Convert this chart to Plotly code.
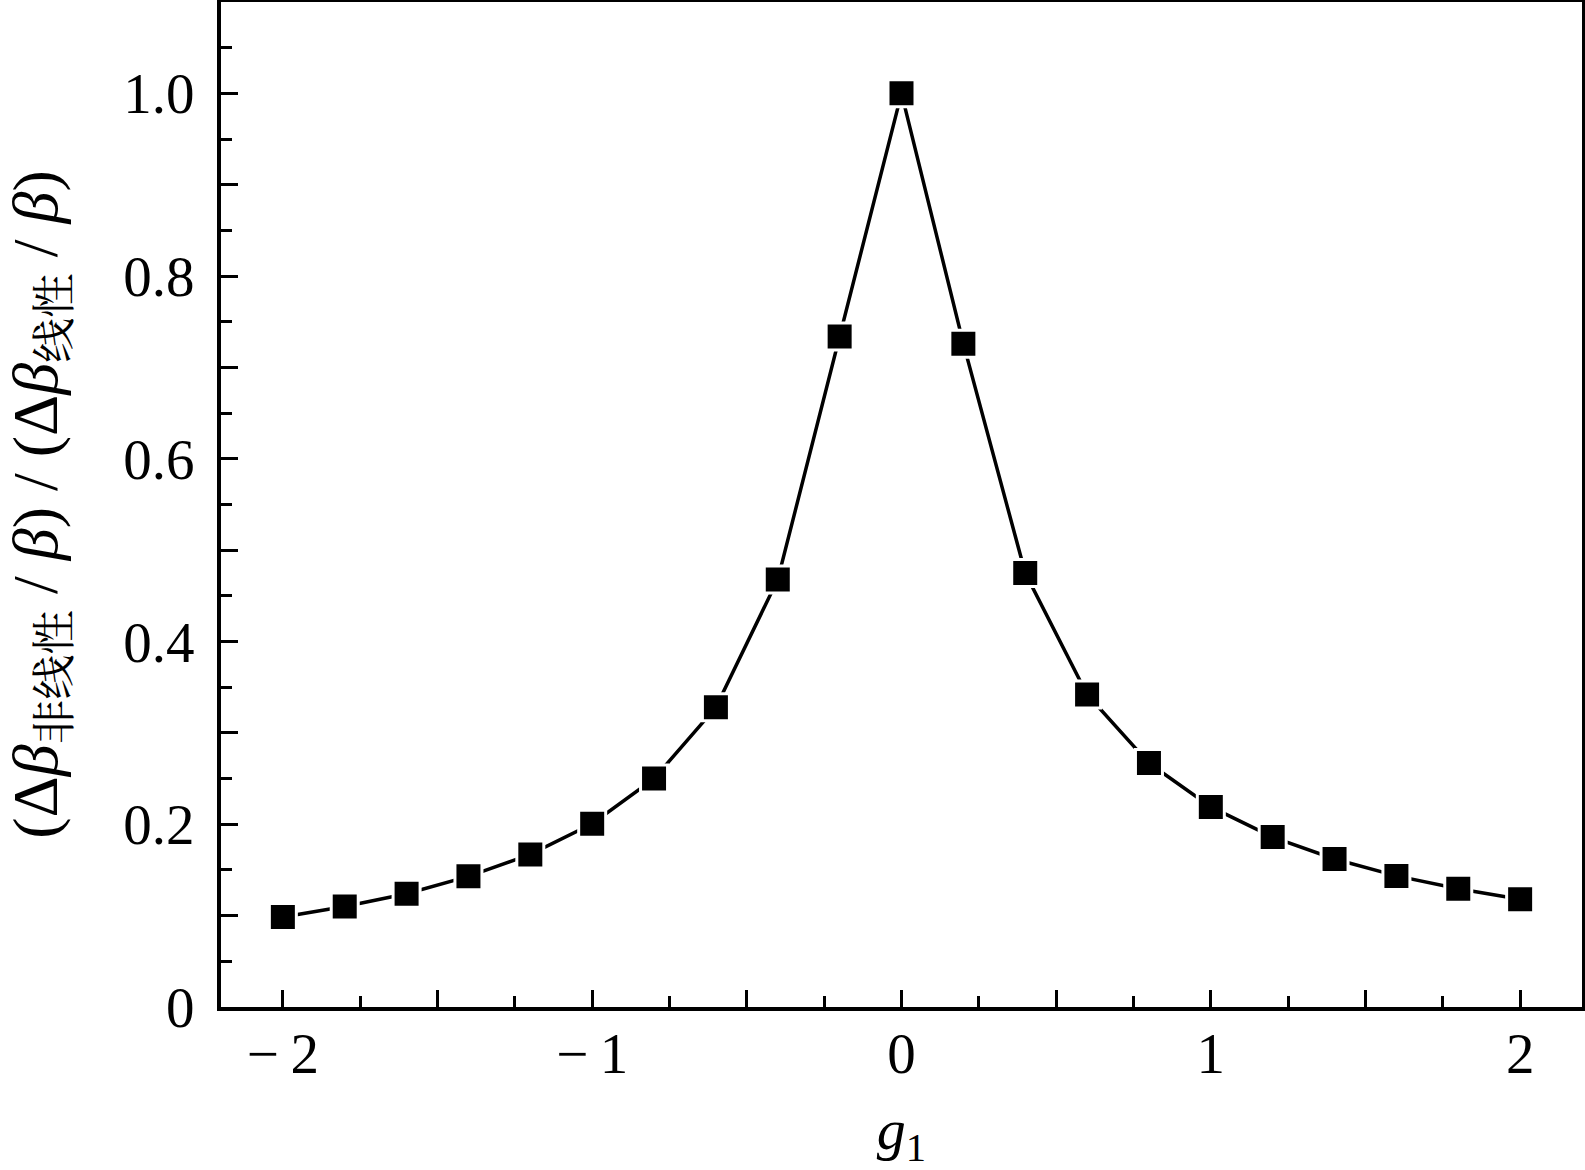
import plotly.graph_objects as go

# data
g1 = [-2.0, -1.8, -1.6, -1.4, -1.2, -1.0, -0.8, -0.6, -0.4, -0.2, 0.0,
      0.2, 0.4, 0.6, 0.8, 1.0, 1.2, 1.4, 1.6, 1.8, 2.0]
ratio = [0.0985, 0.110, 0.124, 0.143, 0.167, 0.2006, 0.250, 0.328, 0.468, 0.734, 1.0,
         0.726, 0.475, 0.342, 0.267, 0.219, 0.186, 0.162, 0.1435, 0.1295, 0.118]

x_tickvals = [-2, -1.5, -1, -0.5, 0, 0.5, 1, 1.5, 2]
x_ticktext = ["\u2212\u20092", "", "\u2212\u20091", "", "0", "", "1", "", "2"]
y_tickvals = [0, 0.1, 0.2, 0.3, 0.4, 0.5, 0.6, 0.7, 0.8, 0.9, 1.0]
y_ticktext = ["0", "", "0.2", "", "0.4", "", "0.6", "", "0.8", "", "1.0"]

FONT = "Liberation Serif, 'Noto Serif CJK SC', 'Noto Sans CJK SC', serif"
SP = "\u2005"
y_title = ("(\u0394<i>\u03b2</i><sub>非线性</sub>" + SP + "/" + SP + "<i>\u03b2</i>)"
           + SP + "/" + SP +
           "(\u0394<i>\u03b2</i><sub>线性</sub>" + SP + "/" + SP + "<i>\u03b2</i>)")

fig = go.Figure()
fig.add_trace(go.Scatter(
    x=g1, y=ratio, mode="lines+markers",
    line=dict(color="black", width=3.5),
    marker=dict(symbol="square", size=27, color="black",
                line=dict(color="white", width=3)),
    showlegend=False,
))

fig.update_layout(
    width=1585, height=1170,
    margin=dict(l=221, r=3, t=2, b=163),
    paper_bgcolor="white", plot_bgcolor="white",
    font=dict(family=FONT, size=56, color="black"),
)
fig.update_xaxes(
    range=[-2.2, 2.2], showgrid=False, zeroline=False, automargin=False,
    showline=True, linecolor="black", linewidth=4, mirror=True,
    tickmode="array", tickvals=x_tickvals, ticktext=x_ticktext,
    ticks="inside", ticklen=17, tickwidth=3, tickcolor="black",
    minor=dict(tickmode="linear", tick0=0, dtick=0.25, ticks="inside",
               ticklen=11, tickwidth=3, tickcolor="black"),
    tickfont=dict(size=57), ticklabelstandoff=-6,
    title=dict(text="<i>g</i><sub>1</sub>", font=dict(size=58), standoff=32),
)
fig.update_yaxes(
    range=[0, 1.1], showgrid=False, zeroline=False, automargin=False,
    showline=True, linecolor="black", linewidth=4, mirror=True,
    tickmode="array", tickvals=y_tickvals, ticktext=y_ticktext,
    ticks="inside", ticklen=17, tickwidth=3, tickcolor="black",
    minor=dict(tickmode="linear", tick0=0, dtick=0.05, ticks="inside",
               ticklen=11, tickwidth=3, tickcolor="black"),
    tickfont=dict(size=57), ticklabelstandoff=11,
    title=dict(text=y_title, font=dict(size=64), standoff=57),
)

fig.write_html("out.html",
               config={"displayModeBar": False},
               post_script="document.body.style.margin='0';document.body.style.overflow='hidden';")
